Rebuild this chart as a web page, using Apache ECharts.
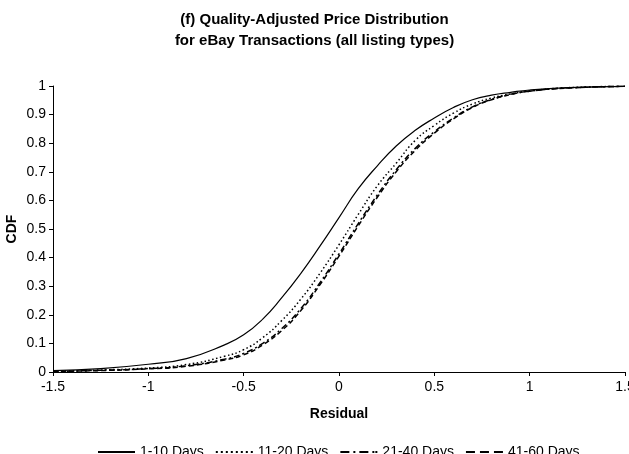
<!DOCTYPE html>
<html>
<head>
<meta charset="utf-8">
<script src="https://cdn.jsdelivr.net/npm/echarts@6/dist/echarts.min.js"></script>
<style>
  html, body { margin: 0; padding: 0; background: #fff; }
  #chart { width: 629px; height: 454px; }
</style>
</head>
<body>
<div id="chart"></div>
<script>
  // residual grid (x) and CDF values
  var residual = [-1.5, -1.25, -1.0, -0.8, -0.6, -0.5, -0.4, -0.3, -0.2, -0.1, 0, 0.1, 0.2, 0.3, 0.4, 0.5, 0.6, 0.7, 0.8, 0.9, 1.0, 1.2, 1.5];
  var cdf1to10  = [0.005, 0.012, 0.027, 0.047, 0.095, 0.13, 0.185, 0.26, 0.345, 0.44, 0.54, 0.64, 0.72, 0.79, 0.845, 0.888, 0.925, 0.952, 0.968, 0.978, 0.986, 0.994, 0.999];
  var cdf11to20 = [0.003, 0.007, 0.014, 0.026, 0.055, 0.078, 0.12, 0.18, 0.255, 0.345, 0.445, 0.55, 0.65, 0.73, 0.81, 0.862, 0.905, 0.937, 0.958, 0.972, 0.983, 0.994, 0.999];
  var cdf21to40 = [0.002, 0.006, 0.012, 0.022, 0.045, 0.065, 0.1, 0.152, 0.222, 0.312, 0.413, 0.518, 0.618, 0.707, 0.782, 0.84, 0.888, 0.927, 0.953, 0.971, 0.982, 0.993, 0.999];
  var cdf41to60 = [0.002, 0.005, 0.011, 0.02, 0.042, 0.06, 0.095, 0.145, 0.215, 0.305, 0.405, 0.51, 0.61, 0.7, 0.775, 0.835, 0.885, 0.925, 0.952, 0.97, 0.982, 0.993, 0.999];
  var seriesNames = ['1-10 Days', '11-20 Days', '21-40 Days', '41-60 Days'];

  function pairs(ys){ return residual.map(function(x, i){ return [x, ys[i]]; }); }

  // legend line samples (37 x 2 boxes), drawn as icons
  var icoSolid  = 'path://M0,0H37V2H0Z';
  var icoDot    = 'path://M0,0h2v2h-2z M5,0h2v2h-2z M10,0h2v2h-2z M15,0h2v2h-2z M20,0h2v2h-2z M25,0h2v2h-2z M30,0h2v2h-2z M35,0h2v2h-2z';
  var icoDashDot= 'path://M0,0h9v2h-9z M13,0h2v2h-2z M19,0h9v2h-9z M32,0h2v2h-2z M35,0h2v2h-2z';
  var icoDash   = 'path://M0,0h9v2h-9z M14,0h9v2h-9z M28,0h9v2h-9z';

  var FONT = 'Liberation Sans';
  var chart = echarts.init(document.getElementById('chart'), null, { renderer: 'canvas' });

  function mkLine(name, ys, type, w){
    return {
      name: name, type: 'line', data: pairs(ys), smooth: true,
      symbol: 'none', showSymbol: false,
      itemStyle: { color: '#000' },
      lineStyle: { color: '#000', width: w, type: type }
    };
  }

  var option = {
    backgroundColor: '#fff',
    animation: false,
    title: {
      text: '(f) Quality-Adjusted Price Distribution\nfor eBay Transactions (all listing types)',
      left: 'center', top: 4,
      textStyle: { fontFamily: FONT, fontSize: 15, fontWeight: 'bold', color: '#000', lineHeight: 21 }
    },
    grid: { left: 53, right: 4, top: 86, bottom: 82, outerBoundsMode: 'none', containLabel: false },
    legend: {
      data: [
        { name: seriesNames[0], icon: icoSolid },
        { name: seriesNames[1], icon: icoDot },
        { name: seriesNames[2], icon: icoDashDot },
        { name: seriesNames[3], icon: icoDash }
      ],
      left: 98, top: 445, padding: 0,
      itemWidth: 37, itemHeight: 2, itemGap: 12,
      textStyle: { fontFamily: FONT, fontSize: 14, color: '#000' }
    },
    xAxis: {
      type: 'value', min: -1.5, max: 1.5, interval: 0.5,
      name: 'Residual', nameLocation: 'middle', nameGap: 35,
      nameTextStyle: { fontFamily: FONT, fontSize: 14, fontWeight: 'bold', color: '#000' },
      axisLine: { show: true, onZero: false, lineStyle: { color: '#000', width: 1 } },
      axisTick: { show: true, length: 4, lineStyle: { color: '#000' } },
      axisLabel: { fontFamily: FONT, fontSize: 14, color: '#000', margin: 8 },
      splitLine: { show: false }
    },
    yAxis: {
      type: 'value', min: 0, max: 1, interval: 0.1,
      name: 'CDF', nameLocation: 'middle', nameGap: 34, nameMoveOverlap: false,
      nameTextStyle: { fontFamily: FONT, fontSize: 14, fontWeight: 'bold', color: '#000' },
      axisLine: { show: true, onZero: false, lineStyle: { color: '#000', width: 1 } },
      axisTick: { show: true, length: 4, lineStyle: { color: '#000' } },
      axisLabel: { fontFamily: FONT, fontSize: 14, color: '#000', margin: 7 },
      splitLine: { show: false }
    },
    series: [
      mkLine(seriesNames[0], cdf1to10, 'solid', 1.2),
      mkLine(seriesNames[1], cdf11to20, [1.5, 2.5], 1.5),
      mkLine(seriesNames[2], cdf21to40, [6, 3, 2, 3], 1.5),
      mkLine(seriesNames[3], cdf41to60, [5, 3], 1.5)
    ]
  };
  chart.setOption(option);
</script>
</body>
</html>
